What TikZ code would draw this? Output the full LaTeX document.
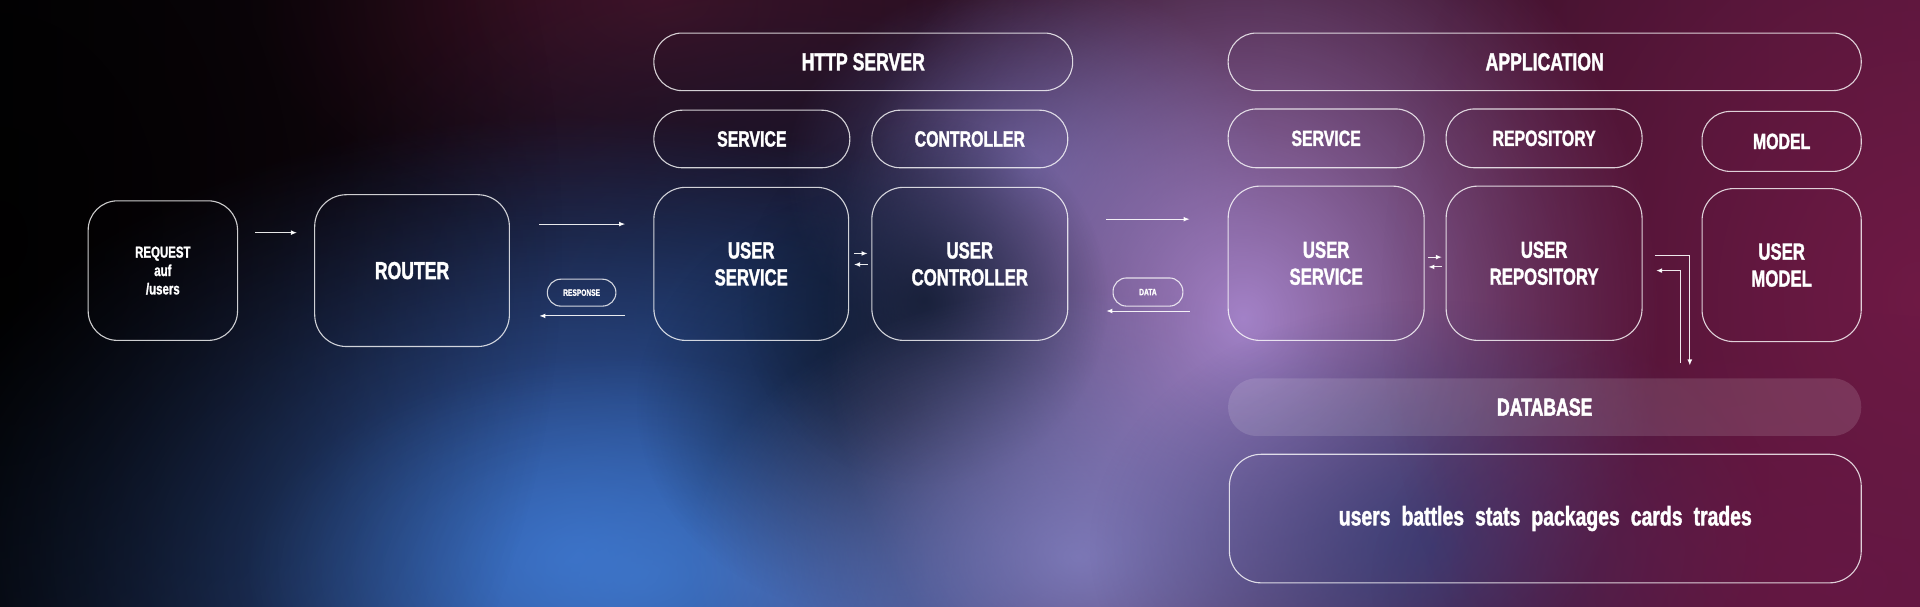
\documentclass[tikz,border=0pt]{standalone}
\usepackage{fontspec}
\setmainfont{Liberation Sans}
\newfontfamily\labfont[FakeStretch=0.72,FakeBold=2]{Liberation Sans}
\usetikzlibrary{arrows.meta,fadings}

\definecolor{bgright}{RGB}{80,22,56}
\definecolor{bgmid}{RGB}{16,14,28}
\definecolor{bgleft}{RGB}{4,3,5}
\definecolor{maroon}{RGB}{72,20,42}
\definecolor{navy}{RGB}{14,24,48}
\definecolor{deepnavy}{RGB}{16,26,48}
\definecolor{glowblue}{RGB}{54,108,198}
\definecolor{lightblue}{RGB}{66,124,208}
\definecolor{lavender}{RGB}{170,136,208}
\definecolor{dusk}{RGB}{88,88,148}
\definecolor{lilac}{RGB}{140,140,208}
\definecolor{ink}{RGB}{50,62,120}
\definecolor{magenta}{RGB}{118,26,72}
\definecolor{berry}{RGB}{104,24,70}

\tikzfading[name=glow, inner color=transparent!0, outer color=transparent!100]

\tikzset{
  box/.style={draw=white, draw opacity=0.8, line width=0.9pt, rounded corners=26pt,
    text=white, align=center, inner sep=0pt,
    font=\labfont\bfseries\fontsize{19}{22}\selectfont},
  pill/.style={box, rounded corners=23pt, font=\labfont\bfseries\fontsize{18}{20}\selectfont},
  bigpill/.style={pill, font=\labfont\bfseries\fontsize{20}{22}\selectfont},
  tag/.style={box, rounded corners=11pt, font=\labfont\bfseries\fontsize{7.5}{8}\selectfont},
  arr/.style={white, draw opacity=0.9, line width=0.8pt, -{Latex[length=5pt,width=4pt]}},
  blob/.style={fill=#1, path fading=glow},
}

\begin{document}
\begin{tikzpicture}[x=1pt,y=1pt]
        \useasboundingbox (0,0) rectangle (1568,495);

        % hintergrund
        \shade[left color=bgleft, middle color=bgmid, right color=bgright] (0,0) rectangle (1568,495);
        \fill[blob=maroon, opacity=0.9] (540,495) ellipse (340 and 200);
        \fill[blob=navy, opacity=0.95] (650,235) ellipse (440 and 320);
        \fill[blob=glowblue, opacity=0.95] (470,40) ellipse (560 and 360);
        \fill[blob=lightblue, opacity=0.7] (520,25) ellipse (320 and 180);
        \fill[blob=deepnavy, opacity=0.9] (740,165) ellipse (220 and 180);
        \fill[blob=dusk, opacity=0.8] (840,355) ellipse (200 and 160);
        \fill[blob=lavender, opacity=0.95] (1015,235) ellipse (340 and 380);
        \fill[blob=deepnavy, opacity=0.8] (755,250) ellipse (150 and 150);
        \fill[blob=lilac, opacity=0.7] (880,40) ellipse (320 and 220);
        \fill[blob=ink, opacity=0.8] (1170,50) ellipse (280 and 200);
        \fill[blob=magenta, opacity=0.8] (1568,250) ellipse (440 and 520);
        \fill[blob=berry, opacity=0.7] (1500,20) ellipse (380 and 220);
        \fill[blob=black, opacity=0.7] (0,300) ellipse (460 and 640);

        % client
        \node[box, minimum width=122pt, minimum height=114pt, rounded corners=24pt,
            font=\labfont\bfseries\fontsize{13}{15}\selectfont] (req) at (133,274) {REQUEST\\auf\\/users};
        \node[box, minimum width=159pt, minimum height=124pt, font=\labfont\bfseries\fontsize{20}{22}\selectfont] (router) at (336.5,274) {ROUTER};
        \node[tag, minimum width=56pt, minimum height=22pt] (resp) at (475,256) {RESPONSE};

        % http server
        \node[bigpill, minimum width=342pt, minimum height=47pt] (http) at (705,444.5) {HTTP SERVER};
        \node[pill, minimum width=160pt, minimum height=47pt] (svchd) at (614,381.5) {SERVICE};
        \node[pill, minimum width=160pt, minimum height=47pt] (ctrlhd) at (792,381.5) {CONTROLLER};
        \node[box, minimum width=159pt, minimum height=125pt] (usvc) at (613.5,279.5) {USER\\SERVICE};
        \node[box, minimum width=160pt, minimum height=125pt] (uctrl) at (792,279.5) {USER\\CONTROLLER};
        \node[tag, minimum width=57pt, minimum height=23pt] (data) at (937.5,256.5) {DATA};

        % application
        \node[bigpill, minimum width=517pt, minimum height=47pt] (app) at (1261.5,444.5) {APPLICATION};
        \node[pill, minimum width=160pt, minimum height=48pt] (asvchd) at (1083,382) {SERVICE};
        \node[pill, minimum width=160pt, minimum height=48pt] (repohd) at (1261,382) {REPOSITORY};
        \node[pill, minimum width=130pt, minimum height=49pt] (modelhd) at (1455,379.5) {MODEL};
        \node[box, minimum width=160pt, minimum height=126pt] (asvc) at (1083,280) {USER\\SERVICE};
        \node[box, minimum width=160pt, minimum height=126pt] (repo) at (1261,280) {USER\\REPOSITORY};
        \node[box, minimum width=130pt, minimum height=125pt] (model) at (1455,278.5) {USER\\MODEL};

        % datenbank
        \node[bigpill, draw=none, fill=white, fill opacity=0.13, text opacity=1,
            minimum width=517pt, minimum height=47pt] (db) at (1261.5,162.5) {DATABASE};
        \node[box, minimum width=516pt, minimum height=105pt, font=\labfont\bfseries\fontsize{22}{24}\selectfont] (tables) at (1262,71.5)
            {users\hspace{9pt}battles\hspace{9pt}stats\hspace{9pt}packages\hspace{9pt}cards\hspace{9pt}trades};

        % pfeile
        \draw[arr] ([xshift=14pt,yshift=31pt]req.east) -- ([xshift=-14pt,yshift=31pt]router.west);
        \draw[arr] ([xshift=24pt,yshift=38pt]router.east) -- ([xshift=-23pt,yshift=32.5pt]usvc.west);
        \draw[arr] ([xshift=-23pt,yshift=-42.5pt]usvc.west) -- ([xshift=24pt,yshift=-37pt]router.east);
        \draw[arr] ([xshift=4pt,yshift=8.5pt]usvc.east) -- ([xshift=-3pt,yshift=8.5pt]uctrl.west);
        \draw[arr] ([xshift=-3pt,yshift=-0.5pt]uctrl.west) -- ([xshift=4pt,yshift=-0.5pt]usvc.east);
        \draw[arr] ([xshift=31pt,yshift=36.5pt]uctrl.east) -- ([xshift=-31pt,yshift=36pt]asvc.west);
        \draw[arr] ([xshift=-31pt,yshift=-39pt]asvc.west) -- ([xshift=31pt,yshift=-38.5pt]uctrl.east);
        \draw[arr] ([xshift=3pt,yshift=5pt]asvc.east) -- ([xshift=-3pt,yshift=5pt]repo.west);
        \draw[arr] ([xshift=-3pt,yshift=-3pt]repo.west) -- ([xshift=3pt,yshift=-3pt]asvc.east);
        \draw[arr] ([xshift=10pt,yshift=6pt]repo.east) -| ([xshift=118.5pt,yshift=10pt]db.north);
        \draw[arr] ([xshift=110.5pt,yshift=12pt]db.north) |- ([xshift=11pt,yshift=-6pt]repo.east);
\end{tikzpicture}
\end{document}
